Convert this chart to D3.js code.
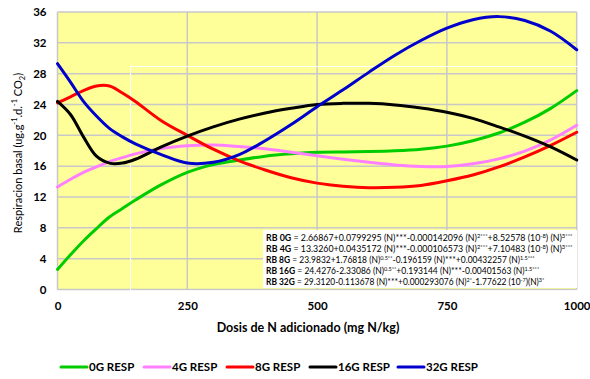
<!DOCTYPE html>
<html>
<head>
<meta charset="utf-8">
<script src="https://cdn.jsdelivr.net/npm/d3@7"></script>
<style>
  html, body { margin: 0; padding: 0; background: #ffffff; }
  svg { display: block; }
  text { font-family: Lato, "Open Sans", sans-serif; }
</style>
</head>
<body>
<svg id="chart" width="590" height="379"></svg>
<script>
// Nitrogen doses (mg N/kg) at which each respiration curve is sampled
const doses = [0, 25, 50, 75, 100, 125, 150, 200, 250, 300, 350, 400, 450, 500, 550, 600, 650, 700, 750, 800, 850, 900, 950, 1000];

// Basal respiration (ug.g-1.d-1 CO2) for each treatment
const resp0G  = [2.6, 4.5, 6.3, 7.9, 9.4, 10.5, 11.6, 13.6, 15.2, 16.2, 16.8, 17.3, 17.6, 17.8, 17.85, 17.9, 18.0, 18.2, 18.6, 19.3, 20.3, 21.7, 23.5, 25.8];
const resp4G  = [13.3, 14.3, 15.2, 15.9, 16.6, 17.1, 17.6, 18.3, 18.65, 18.75, 18.55, 18.25, 17.8, 17.35, 16.9, 16.5, 16.15, 15.95, 15.95, 16.3, 16.95, 17.95, 19.4, 21.3];
const resp8G  = [24.2, 25.0, 25.8, 26.4, 26.4, 25.5, 24.4, 21.9, 20.0, 18.2, 16.7, 15.5, 14.5, 13.8, 13.4, 13.2, 13.25, 13.5, 14.1, 14.85, 15.9, 17.2, 18.7, 20.4];
const resp16G = [24.4, 22.7, 19.8, 17.3, 16.4, 16.4, 16.9, 18.5, 19.9, 21.1, 22.1, 22.9, 23.5, 24.0, 24.15, 24.15, 23.95, 23.55, 23.0, 22.2, 21.1, 19.9, 18.5, 16.8];
const resp32G = [29.3, 26.9, 24.4, 22.5, 20.9, 19.8, 18.9, 17.5, 16.4, 16.5, 17.5, 19.3, 21.4, 23.7, 25.9, 28.2, 30.4, 32.3, 33.9, 35.0, 35.4, 34.9, 33.5, 31.1];

const seriesNames  = ["0G RESP", "4G RESP", "8G RESP", "16G RESP", "32G RESP"];
const seriesValues = [resp0G, resp4G, resp8G, resp16G, resp32G];
const seriesColors = ["#00cc00", "#ff80ff", "#ff0000", "#000000", "#0000cc"];

const xTicks = [0, 250, 500, 750, 1000];
const yTicks = [0, 4, 8, 12, 16, 20, 24, 28, 32, 36];

// Fitted regression equations shown in the note box
const equations = [
  [["RB 0G", "b"], [" = 2.66867+0.0799295 (N)***-0.000142096 (N)"], ["2***", "sup"], ["+8.52578 (10"], ["-8", "sup"], [") (N)"], ["3***", "sup"]],
  [["RB 4G", "b"], [" = 13.3260+0.0435172 (N)***-0.000106573 (N)"], ["2***", "sup"], ["+7.10483 (10"], ["-8", "sup"], [") (N)"], ["3***", "sup"]],
  [["RB 8G", "b"], [" = 23.9832+1.76818 (N)"], ["0.5**", "sup"], ["-0.196159 (N)***+0.00432257 (N)"], ["1.5***", "sup"]],
  [["RB 16G", "b"], [" = 24.4276-2.33086 (N)"], ["0.5**", "sup"], ["+0.193144 (N)***-0.00401563 (N)"], ["1.5***", "sup"]],
  [["RB 32G", "b"], [" = 29.3120-0.113678 (N)***+0.000293076 (N)"], ["2*", "sup"], ["-1.77622 (10"], ["-7", "sup"], [")(N)"], ["3*", "sup"]]
];
const equationWidths = [307, 307, 269, 274, 279];

const svg = d3.select("#chart");
const margin = { left: 57.5, right: 13.3, top: 12, bottom: 89.5 };
const W = 590, H = 379;
const plotW = W - margin.left - margin.right;
const plotH = H - margin.top - margin.bottom;

const x = d3.scaleLinear().domain([0, 1000]).range([margin.left, margin.left + plotW]);
const y = d3.scaleLinear().domain([0, 36]).range([margin.top + plotH, margin.top]);

// Plot background
svg.append("rect")
  .attr("x", x(0)).attr("y", y(36))
  .attr("width", x(1000) - x(0)).attr("height", y(0) - y(36))
  .attr("fill", "#ffff99");

// Gridlines
const grid = svg.append("g").attr("stroke", "#c8c8c8").attr("stroke-width", 1.5);
grid.selectAll("line.h").data(yTicks).join("line")
  .attr("x1", x(0)).attr("x2", x(1000))
  .attr("y1", d => y(d)).attr("y2", d => y(d));
grid.selectAll("line.v").data(xTicks).join("line")
  .attr("y1", y(0)).attr("y2", y(36))
  .attr("x1", d => x(d)).attr("x2", d => x(d));

// Outline of the (empty) text frame sitting over the plot
svg.append("rect")
  .attr("x", 130.5).attr("y", 66.5).attr("width", 460).attr("height", 224.5)
  .attr("fill", "none").attr("stroke", "#ffffff").attr("stroke-width", 1);

// Equation box
svg.append("rect")
  .attr("x", 263).attr("y", 230).attr("width", 314).attr("height", 58)
  .attr("fill", "#ffffff");

const eqG = svg.append("g");
equations.forEach((parts, i) => {
  const t = eqG.append("text")
    .attr("x", 0).attr("y", 0)
    .attr("font-family", "'DejaVu Sans Condensed', 'Liberation Sans Narrow', sans-serif")
    .attr("font-size", 10)
    .attr("fill", "#000");
  parts.forEach(([s, kind]) => {
    const ts = t.append("tspan").text(s);
    if (kind === "b") ts.attr("font-weight", "bold");
    if (kind === "sup") ts.attr("font-size", 6.5).attr("baseline-shift", "3.5");
  });
  const w = t.node().getComputedTextLength();
  const sx = equationWidths[i] / w;
  t.attr("transform", `translate(266, ${241 + i * 11.1}) scale(${sx}, 1)`);
});

// Series lines
const line = d3.line()
  .x((d, i) => x(doses[i]))
  .y(d => y(d))
  .curve(d3.curveCatmullRom.alpha(0.5));

svg.append("g").selectAll("path").data(seriesValues).join("path")
  .attr("d", d => line(d))
  .attr("fill", "none")
  .attr("stroke", (d, i) => seriesColors[i])
  .attr("stroke-width", 3)
  .attr("stroke-linejoin", "round")
  .attr("stroke-linecap", "round");

// Axes (labels only; gridlines form the frame)
const yAxis = svg.append("g")
  .attr("transform", `translate(${x(0)},0)`)
  .call(d3.axisLeft(y).tickValues(yTicks).tickSize(0).tickPadding(11));
const xAxis = svg.append("g")
  .attr("transform", `translate(0,${y(0)})`)
  .call(d3.axisBottom(x).tickValues(xTicks).tickFormat(d3.format("d")).tickSize(0).tickPadding(12));
[yAxis, xAxis].forEach(a => {
  a.select(".domain").remove();
  a.selectAll("text")
    .attr("font-family", "Lato, sans-serif")
    .attr("font-size", 11.5)
    .attr("font-weight", "bold")
    .attr("fill", "#000");
});

// Axis titles
svg.append("text")
  .attr("x", 308).attr("y", 332)
  .attr("text-anchor", "middle")
  .attr("font-size", 12.5).attr("font-weight", "bold")
  .text("Dosis de N adicionado (mg N/kg)");

const yt = svg.append("text")
  .attr("transform", "translate(22,153) rotate(-90)")
  .attr("text-anchor", "middle")
  .attr("font-size", 11);
yt.append("tspan").text("Respiracion basal (ug.g");
yt.append("tspan").text("-1").attr("font-size", 7.5).attr("baseline-shift", "5");
yt.append("tspan").text(".d.");
yt.append("tspan").text("-1").attr("font-size", 7.5).attr("baseline-shift", "5");
yt.append("tspan").text(" CO");
yt.append("tspan").text("2").attr("font-size", 7.5).attr("baseline-shift", "-3");
yt.append("tspan").text(")");

// Legend
const legendX = [61, 144, 227, 310, 398];
const lg = svg.append("g").selectAll("g").data(seriesNames).join("g")
  .attr("transform", (d, i) => `translate(${legendX[i]},367)`);
lg.append("line")
  .attr("x1", 0).attr("x2", 26).attr("y1", 0).attr("y2", 0)
  .attr("stroke", (d, i) => seriesColors[i]).attr("stroke-width", 3)
  .attr("stroke-linecap", "round");
lg.append("text")
  .attr("x", 28).attr("y", 4)
  .attr("font-size", 11.5).attr("font-weight", "bold")
  .text(d => d);
</script>
</body>
</html>
